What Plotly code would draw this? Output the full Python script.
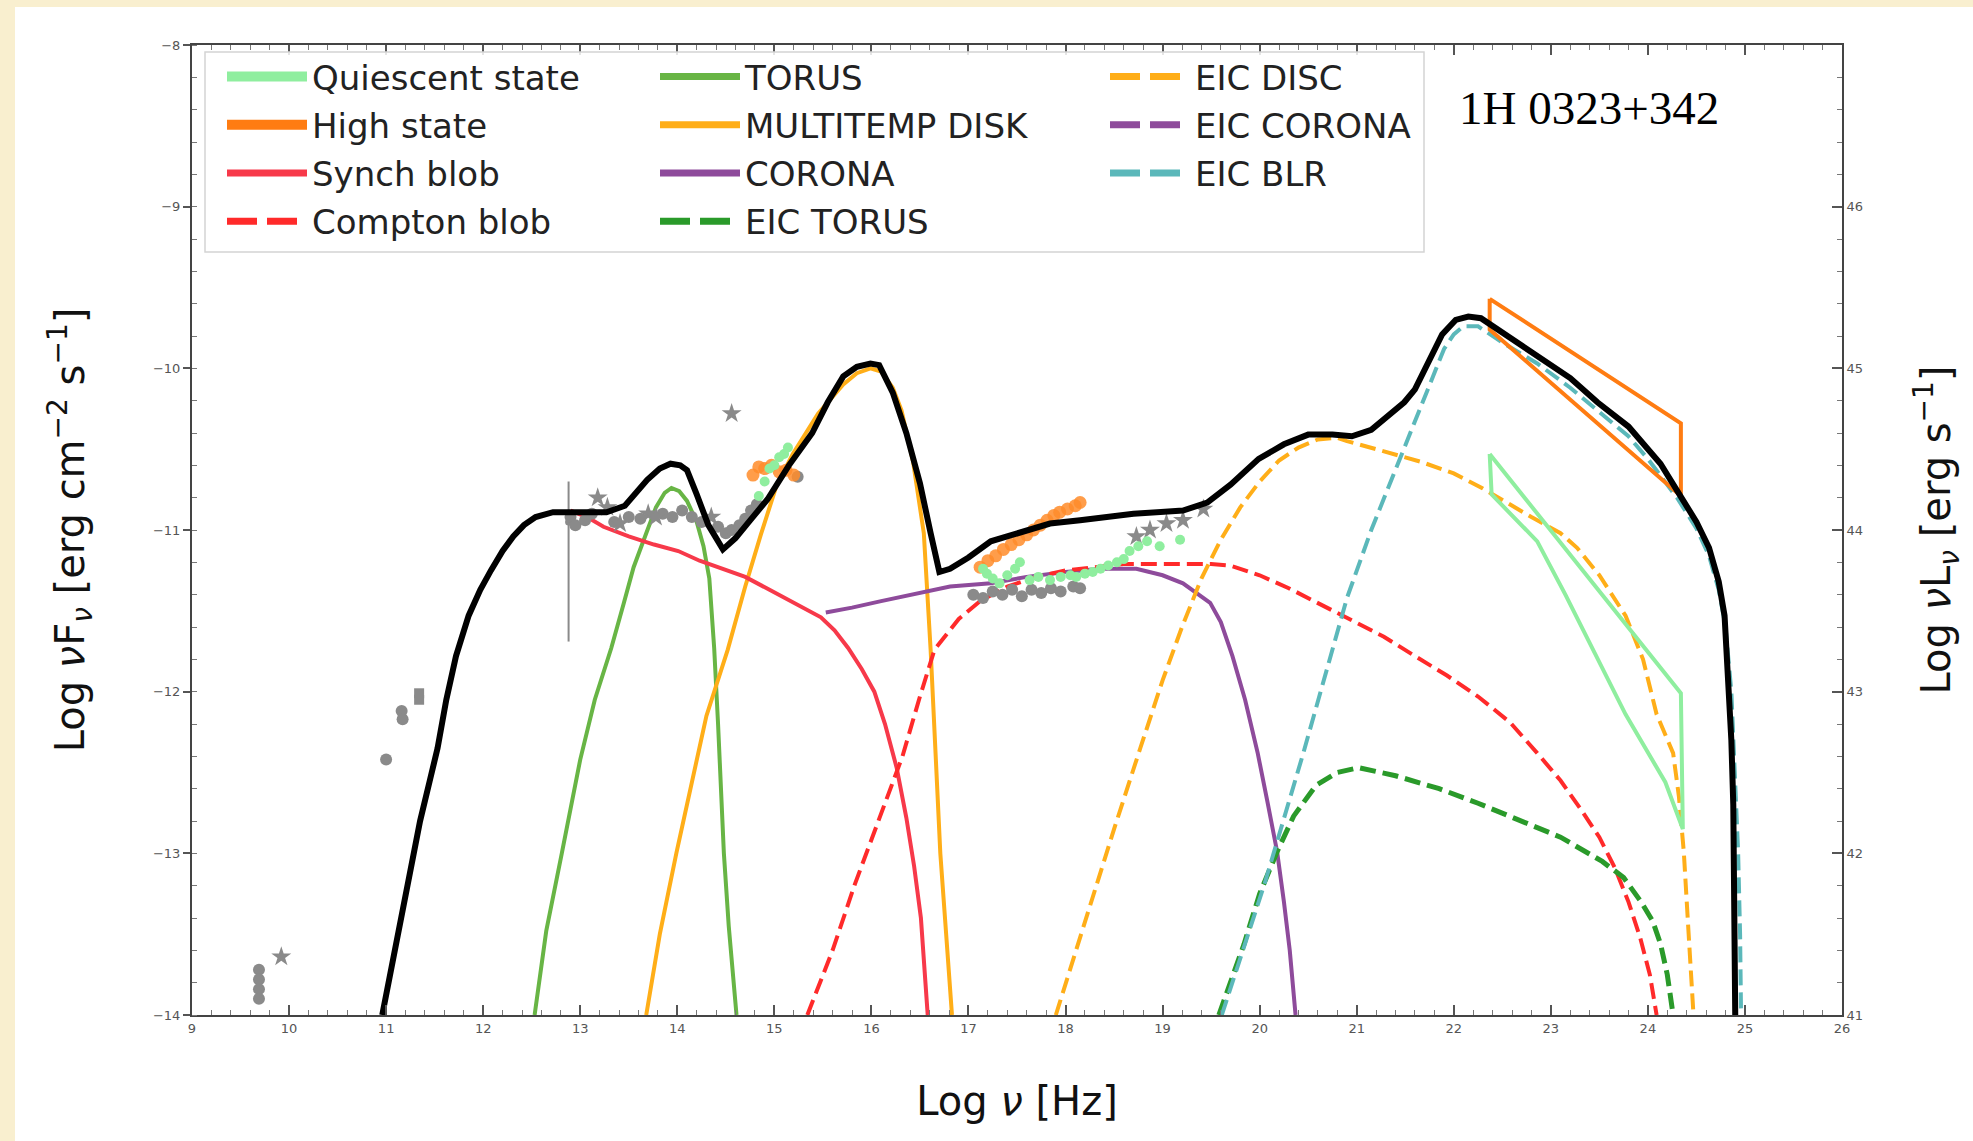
import plotly.graph_objects as go

# ---------------- model curves: log nu [Hz], log nuFnu ----------------
total_x = [10.96, 11.1, 11.23, 11.35, 11.45, 11.53, 11.62, 11.72, 11.85, 11.97, 12.08, 12.2, 12.31, 12.42,
           12.54, 12.72, 13.0, 13.27, 13.46, 13.58, 13.69, 13.82, 13.93, 14.03, 14.1, 14.2, 14.32, 14.47,
           14.6, 14.75, 14.93, 15.15, 15.39, 15.55, 15.71, 15.85, 15.99, 16.08, 16.22, 16.36, 16.5, 16.61,
           16.7, 16.81, 17.0, 17.23, 17.5, 17.84, 18.15, 18.7, 19.21, 19.46, 19.7, 19.99, 20.25, 20.5,
           20.75, 20.95, 21.15, 21.34, 21.49, 21.6, 21.71, 21.88, 22.02, 22.15, 22.28, 22.55, 22.86, 23.2,
           23.48, 23.8, 24.13, 24.3, 24.5, 24.63, 24.73, 24.79, 24.83, 24.86, 24.88, 24.89, 24.9]
total_y = [-14.0, -13.57, -13.19, -12.8, -12.55, -12.35, -12.05, -11.78, -11.53, -11.37, -11.25, -11.13, -11.04,
           -10.97, -10.92, -10.89, -10.89, -10.89, -10.85, -10.77, -10.69, -10.62, -10.59, -10.6, -10.63,
           -10.78, -10.97, -11.12, -11.05, -10.94, -10.81, -10.6, -10.4, -10.21, -10.05, -9.99, -9.97,
           -9.98, -10.15, -10.4, -10.71, -11.02, -11.26, -11.24, -11.17, -11.07, -11.02, -10.96, -10.94,
           -10.9, -10.88, -10.83, -10.72, -10.56, -10.47, -10.41, -10.41, -10.42, -10.38, -10.28, -10.21,
           -10.13, -10.0, -9.79, -9.7, -9.68, -9.69, -9.8, -9.92, -10.06, -10.21, -10.36, -10.59, -10.76,
           -10.95, -11.11, -11.32, -11.53, -11.94, -12.3, -12.7, -13.3, -14.0]

synch_x = [12.9, 13.07, 13.24, 13.5, 13.76, 14.01, 14.23, 14.5, 14.7, 14.95, 15.16, 15.35, 15.48, 15.62,
           15.76, 15.9, 16.03, 16.14, 16.26, 16.36, 16.44, 16.51, 16.55, 16.58]
synch_y = [-10.88, -10.92, -10.98, -11.04, -11.09, -11.13, -11.19, -11.25, -11.29, -11.37, -11.44, -11.5,
           -11.54, -11.62, -11.73, -11.86, -12.0, -12.2, -12.47, -12.78, -13.08, -13.4, -13.7, -14.0]

compton_x = [15.34, 15.6, 15.83, 16.08, 16.32, 16.5, 16.65, 16.9, 17.12, 17.4, 17.7, 18.0, 18.3, 18.6, 18.9,
             19.2, 19.5, 19.7, 20.0, 20.3, 20.63, 20.95, 21.28, 21.6, 21.93, 22.25, 22.58, 22.86, 23.1,
             23.3, 23.5, 23.66, 23.8, 23.92, 24.02, 24.09]
compton_y = [-14.0, -13.6, -13.19, -12.78, -12.4, -12.03, -11.74, -11.55, -11.44, -11.35, -11.29, -11.25,
             -11.23, -11.21, -11.21, -11.21, -11.21, -11.22, -11.28, -11.36, -11.46, -11.56, -11.66,
             -11.78, -11.9, -12.03, -12.19, -12.38, -12.55, -12.72, -12.9, -13.09, -13.3, -13.52, -13.75, -14.0]

torus_x = [12.53, 12.65, 12.81, 13.0, 13.15, 13.32, 13.45, 13.55, 13.68, 13.78, 13.87, 13.94, 14.02, 14.1,
           14.2, 14.27, 14.33, 14.38, 14.42, 14.45, 14.48, 14.53, 14.57, 14.61]
torus_y = [-14.0, -13.48, -13.0, -12.42, -12.05, -11.73, -11.45, -11.23, -11.02, -10.86, -10.77, -10.74,
           -10.76, -10.82, -10.95, -11.1, -11.3, -11.73, -12.2, -12.6, -13.0, -13.45, -13.75, -14.0]

disk_x = [13.68, 13.82, 13.99, 14.15, 14.3, 14.52, 14.7, 14.86, 15.02, 15.19, 15.45, 15.71, 15.85, 15.99,
          16.1, 16.22, 16.31, 16.43, 16.54, 16.61, 16.66, 16.71, 16.77, 16.83]
disk_y = [-14.0, -13.5, -13.0, -12.55, -12.15, -11.74, -11.35, -11.03, -10.73, -10.53, -10.28, -10.1,
          -10.03, -10.0, -10.02, -10.12, -10.26, -10.58, -11.02, -11.74, -12.4, -13.0, -13.5, -14.0]

corona_x = [15.53, 15.8, 16.1, 16.5, 16.81, 17.23, 17.6, 18.0, 18.35, 18.73, 19.0, 19.21, 19.49, 19.6,
            19.72, 19.85, 19.98, 20.08, 20.18, 20.25, 20.31, 20.37]
corona_y = [-11.51, -11.48, -11.44, -11.39, -11.35, -11.33, -11.29, -11.26, -11.24, -11.24, -11.28, -11.33,
            -11.45, -11.57, -11.78, -12.05, -12.38, -12.68, -12.99, -13.3, -13.6, -14.0]

eic_torus_x = [19.58, 19.84, 20.0, 20.18, 20.35, 20.58, 20.8, 21.02, 21.4, 21.85, 22.25, 22.66, 23.1, 23.53,
               23.75, 23.93, 24.05, 24.13, 24.2, 24.26]
eic_torus_y = [-14.0, -13.56, -13.25, -12.99, -12.77, -12.58, -12.5, -12.47, -12.52, -12.6, -12.69, -12.79,
               -12.9, -13.05, -13.15, -13.3, -13.42, -13.56, -13.75, -14.0]

eic_disc_x = [17.9, 18.2, 18.5, 18.77, 19.0, 19.2, 19.4, 19.6, 19.8, 20.0, 20.2, 20.4, 20.6, 20.8, 20.9, 21.2,
              21.67, 22.0, 22.29, 22.8, 23.1, 23.27, 23.5, 23.77, 23.95, 24.09, 24.18, 24.26, 24.32, 24.37,
              24.42, 24.47]
eic_disc_y = [-14.0, -13.42, -12.85, -12.35, -11.93, -11.6, -11.3, -11.06, -10.86, -10.7, -10.57, -10.49,
              -10.44, -10.43, -10.45, -10.5, -10.58, -10.65, -10.74, -10.92, -11.02, -11.11, -11.28, -11.53,
              -11.8, -12.14, -12.26, -12.38, -12.65, -12.99, -13.5, -14.0]

eic_blr_x = [19.61, 20.05, 20.45, 20.7, 20.9, 21.15, 21.43, 21.6, 21.76, 21.9, 22.0, 22.1, 22.25, 22.5,
             22.86, 23.2, 23.5, 23.8, 24.0, 24.3, 24.5, 24.63, 24.73, 24.8, 24.86, 24.9, 24.93, 24.95, 24.96]
eic_blr_y = [-14.0, -13.19, -12.38, -11.85, -11.42, -11.0, -10.58, -10.32, -10.08, -9.88, -9.79, -9.74,
             -9.74, -9.84, -9.97, -10.12, -10.27, -10.42, -10.56, -10.8, -10.99, -11.16, -11.37, -11.6,
             -12.0, -12.5, -13.0, -13.5, -14.0]

# ---------------- gamma-ray bow ties ----------------
high_bt_x = [22.37, 24.34, 24.34, 22.37, 22.37]
high_bt_y = [-9.57, -10.34, -10.79, -9.76, -9.57]
quies_bt_x = [22.37, 24.34, 24.36, 24.18, 23.77, 23.15, 22.86, 22.39, 22.37]
quies_bt_y = [-10.53, -12.01, -12.85, -12.56, -12.14, -11.40, -11.07, -10.78, -10.53]

# ---------------- data points ----------------
grey_circ_x = [9.69, 9.69, 9.69, 9.69, 11.0, 11.16, 11.17, 12.9, 12.95, 13.05, 13.12, 13.35, 13.5, 13.62,
               13.85, 13.95, 14.05, 14.15, 14.25, 14.42, 14.5, 14.56, 14.64, 14.7, 14.76, 14.82, 15.24,
               17.05, 17.15, 17.25, 17.35, 17.45, 17.55, 17.65, 17.75, 17.85, 17.95, 18.08, 18.15]
grey_circ_y = [-13.72, -13.78, -13.84, -13.9, -12.42, -12.12, -12.17, -10.92, -10.97, -10.94, -10.9, -10.95,
               -10.92, -10.93, -10.9, -10.92, -10.88, -10.92, -10.95, -10.98, -11.02, -11.0, -10.97, -10.93,
               -10.88, -10.84, -10.67, -11.4, -11.42, -11.38, -11.4, -11.37, -11.41, -11.37, -11.39, -11.36,
               -11.38, -11.35, -11.36]
grey_sq_x = [11.34, 11.34]
grey_sq_y = [-12.01, -12.05]
grey_star_x = [9.92, 13.18, 13.28, 13.41, 13.7, 13.78, 14.35, 14.56, 18.73, 18.87, 19.04, 19.21, 19.42]
grey_star_y = [-13.64, -10.8, -10.86, -10.96, -10.9, -10.92, -10.92, -10.28, -11.04, -11.0, -10.96, -10.94,
               -10.87]
grey_err_x = [12.88]
grey_err_y = [-10.95]
grey_err_up = [0.25]
grey_err_dn = [0.74]

high_pts_x = [14.78, 14.84, 14.9, 14.97, 15.05, 15.12, 15.2, 17.12, 17.2, 17.28, 17.36, 17.44, 17.52, 17.6,
              17.67, 17.74, 17.81, 17.88, 17.94, 18.02, 18.1, 18.15]
high_pts_y = [-10.66, -10.61, -10.62, -10.6, -10.64, -10.63, -10.66, -11.23, -11.19, -11.16, -11.12, -11.09,
              -11.06, -11.03, -11.0, -10.97, -10.94, -10.91, -10.89, -10.87, -10.85, -10.83]
quies_pts_x = [14.84, 14.9, 14.95, 15.0, 15.05, 15.1, 15.14, 17.15, 17.19, 17.25, 17.32, 17.4, 17.48, 17.53,
               17.63, 17.72, 17.84, 17.95, 18.05, 18.11, 18.2, 18.28, 18.36, 18.44, 18.53, 18.6, 18.66,
               18.75, 18.84, 18.97, 19.18]
quies_pts_y = [-10.79, -10.7, -10.62, -10.6, -10.55, -10.53, -10.49, -11.24, -11.27, -11.3, -11.33, -11.28,
               -11.24, -11.2, -11.31, -11.29, -11.31, -11.29, -11.28, -11.29, -11.27, -11.26, -11.24, -11.22,
               -11.2, -11.18, -11.13, -11.1, -11.07, -11.1, -11.06]

# ---------------- styling ----------------
C_QUIES = "#8fee9f"
C_HIGH = "#ff7c12"
C_SYNCH = "#f7394a"
C_COMPTON = "#ff2a2a"
C_TORUS = "#68b545"
C_DISK = "#ffae18"
C_CORONA = "#8e4b9b"
C_EIC_TORUS = "#2a9a2a"
C_EIC_DISC = "#ffae18"
C_EIC_CORONA = "#8e4b9b"
C_EIC_BLR = "#5bb8ba"
C_GREY = "#8a8a8a"
DASH = "16px,7px"
LEG_DASH = "30px,10px"

fig = go.Figure()


def curve(x, y, color, width=4, dash=None):
    fig.add_trace(go.Scatter(x=x, y=y, mode="lines", showlegend=False, hoverinfo="skip",
                             line=dict(color=color, width=width, dash=dash)))


curve(torus_x, torus_y, C_TORUS)
curve(disk_x, disk_y, C_DISK)
curve(synch_x, synch_y, C_SYNCH)
curve(corona_x, corona_y, C_CORONA)
curve(compton_x, compton_y, C_COMPTON, dash=DASH)
curve(eic_torus_x, eic_torus_y, C_EIC_TORUS, width=5, dash=DASH)
curve(eic_disc_x, eic_disc_y, C_EIC_DISC, dash=DASH)
curve(eic_blr_x, eic_blr_y, C_EIC_BLR, dash=DASH)

# data
fig.add_trace(go.Scatter(x=grey_err_x, y=grey_err_y, mode="markers", showlegend=False,
                         marker=dict(color=C_GREY, size=7),
                         error_y=dict(type="data", symmetric=False, array=grey_err_up, arrayminus=grey_err_dn,
                                      color=C_GREY, thickness=2, width=0)))
fig.add_trace(go.Scatter(x=grey_circ_x, y=grey_circ_y, mode="markers", showlegend=False,
                         marker=dict(color=C_GREY, size=12)))
fig.add_trace(go.Scatter(x=grey_sq_x, y=grey_sq_y, mode="markers", showlegend=False,
                         marker=dict(color=C_GREY, size=10, symbol="square")))
fig.add_trace(go.Scatter(x=grey_star_x, y=grey_star_y, mode="markers", showlegend=False,
                         marker=dict(color=C_GREY, size=15, symbol="star")))
fig.add_trace(go.Scatter(x=high_pts_x, y=high_pts_y, mode="markers", showlegend=False,
                         marker=dict(color="#ff8c2a", size=13, opacity=0.85)))
fig.add_trace(go.Scatter(x=quies_pts_x, y=quies_pts_y, mode="markers", showlegend=False,
                         marker=dict(color=C_QUIES, size=10)))

# bow ties
curve(high_bt_x, high_bt_y, C_HIGH, width=4)
curve(quies_bt_x, quies_bt_y, C_QUIES, width=4)

# total
curve(total_x, total_y, "#000000", width=6)

# right axis anchor trace
fig.add_trace(go.Scatter(x=[None], y=[None], yaxis="y2", showlegend=False, hoverinfo="skip"))

# ---------------- legend entries ----------------
legend_entries = [
    ("Quiescent state", C_QUIES, 10, None, "legend"),
    ("High state", C_HIGH, 10, None, "legend"),
    ("Synch blob", C_SYNCH, 7, None, "legend"),
    ("Compton blob", C_COMPTON, 7, LEG_DASH, "legend"),
    ("TORUS", C_TORUS, 7, None, "legend2"),
    ("MULTITEMP DISK", C_DISK, 7, None, "legend2"),
    ("CORONA", C_CORONA, 7, None, "legend2"),
    ("EIC TORUS", C_EIC_TORUS, 7, LEG_DASH, "legend2"),
    ("EIC DISC", C_EIC_DISC, 7, LEG_DASH, "legend3"),
    ("EIC CORONA", C_EIC_CORONA, 7, LEG_DASH, "legend3"),
    ("EIC BLR", C_EIC_BLR, 7, LEG_DASH, "legend3"),
]
for name, color, w, dash, lg in legend_entries:
    fig.add_trace(go.Scatter(x=[None], y=[None], mode="lines", name=name, legend=lg, legendgroup=name,
                             line=dict(color=color, width=w, dash=dash)))

# ---------------- layout ----------------
W, H = 1973, 1141
L, R, T, B = 192, 131, 45, 126
PW, PH = W - L - R, H - T - B


def px_x(p):
    return (p - L) / PW


def px_y(p):
    return 1 - (p - T) / PH


ITEMW = 80
leg_common = dict(xanchor="left", yanchor="top", bgcolor="rgba(0,0,0,0)", borderwidth=0,
                  font=dict(family="DejaVu Sans", size=34, color="#222222"),
                  itemwidth=ITEMW, tracegroupgap=1, traceorder="grouped")

axis_font = dict(family="DejaVu Sans", size=13, color="#555555")
title_font = dict(family="DejaVu Sans", size=40, color="#111111")

fig.update_layout(
    width=W, height=H,
    margin=dict(l=L, r=R, t=T, b=B, autoexpand=False),
    paper_bgcolor="white", plot_bgcolor="white",
    legend=dict(x=px_x(312 - ITEMW - 10), y=px_y(48), **leg_common),
    legend2=dict(x=px_x(745 - ITEMW - 10), y=px_y(48), **leg_common),
    legend3=dict(x=px_x(1195 - ITEMW - 10), y=px_y(48), **leg_common),
    xaxis=dict(range=[9, 26], tick0=9, dtick=1, showgrid=False, zeroline=False,
               showline=True, linecolor="#444444", linewidth=2, mirror="ticks",
               ticks="inside", ticklen=10, tickwidth=1.5, tickcolor="#555555",
               minor=dict(dtick=0.2, ticks="inside", ticklen=5, tickcolor="#777777", tickwidth=1),
               tickfont=axis_font,
               title=dict(text="Log <i>ν</i> [Hz]", font=title_font, standoff=52)),
    yaxis=dict(range=[-14, -8], tick0=-14, dtick=1, showgrid=False, zeroline=False,
               showline=True, linecolor="#444444", linewidth=2,
               ticks="outside", ticklen=7, tickwidth=1.5, tickcolor="#555555",
               minor=dict(dtick=0.2, ticks="inside", ticklen=5, tickcolor="#777777", tickwidth=1),
               tickfont=axis_font, tickformat="d",
               title=dict(text="Log <i>ν</i>F<sub><i>ν</i></sub> [erg cm<sup>−2</sup> s<sup>−1</sup>]",
                          font=title_font, standoff=56)),
    yaxis2=dict(range=[41, 47], overlaying="y", side="right", anchor="x",
                tickvals=[41, 42, 43, 44, 45, 46], showgrid=False, zeroline=False,
                showline=True, linecolor="#444444", linewidth=2,
                ticks="inside", ticklen=10, tickwidth=1.5, tickcolor="#555555",
                minor=dict(dtick=0.2, ticks="inside", ticklen=5, tickcolor="#777777", tickwidth=1),
                tickfont=axis_font,
                title=dict(text="Log <i>ν</i>L<sub><i>ν</i></sub> [erg s<sup>−1</sup>]",
                           font=title_font, standoff=60)),
    shapes=[
        dict(type="rect", xref="paper", yref="paper", layer="below",
             x0=px_x(0), x1=px_x(15), y0=px_y(H), y1=px_y(0),
             fillcolor="#f9efcf", line=dict(width=0)),
        dict(type="rect", xref="paper", yref="paper", layer="below",
             x0=px_x(0), x1=px_x(W), y0=px_y(7), y1=px_y(0),
             fillcolor="#f9efcf", line=dict(width=0)),
        dict(type="rect", xref="paper", yref="paper", layer="above",
             x0=px_x(205), x1=px_x(1424), y0=px_y(252), y1=px_y(52),
             fillcolor="rgba(255,255,255,0.85)", line=dict(color="#d4d4d4", width=1.5)),
    ],
    annotations=[
        dict(text="1H 0323+342", xref="paper", yref="paper", x=px_x(1457), y=px_y(108),
             xanchor="left", yanchor="middle", showarrow=False,
             font=dict(family="Liberation Serif", size=47, color="#000000")),
    ],
)

fig.write_html("out.html", config={"displayModeBar": False},
               post_script="document.body.style.margin='0px';")
